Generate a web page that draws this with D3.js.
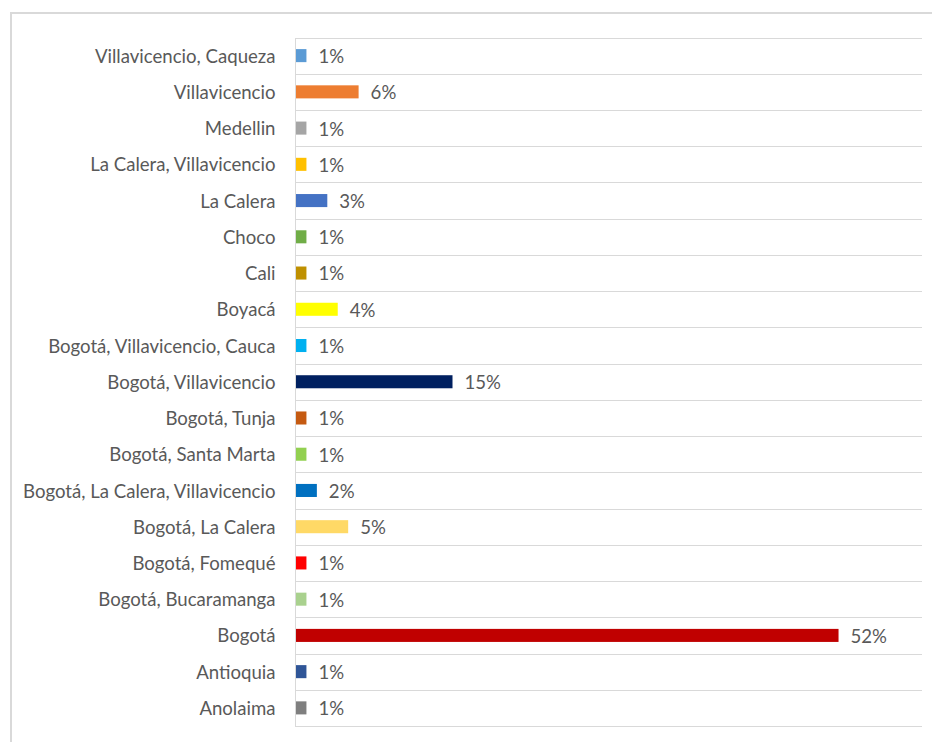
<!DOCTYPE html>
<html>
<head>
<meta charset="utf-8">
<script src="https://cdn.jsdelivr.net/npm/d3@7"></script>
<style>
  html, body { margin: 0; padding: 0; background: #fff; }
  svg { display: block; }
</style>
</head>
<body>
<svg id="chart" width="932" height="742"></svg>
<script>
// Destinos (de arriba hacia abajo) y su participación en porcentaje
const categories = [
  "Villavicencio, Caqueza",
  "Villavicencio",
  "Medellin",
  "La Calera, Villavicencio",
  "La Calera",
  "Choco",
  "Cali",
  "Boyacá",
  "Bogotá, Villavicencio, Cauca",
  "Bogotá, Villavicencio",
  "Bogotá, Tunja",
  "Bogotá, Santa Marta",
  "Bogotá, La Calera, Villavicencio",
  "Bogotá, La Calera",
  "Bogotá, Fomequé",
  "Bogotá, Bucaramanga",
  "Bogotá",
  "Antioquia",
  "Anolaima"
];
const values = [1, 6, 1, 1, 3, 1, 1, 4, 1, 15, 1, 1, 2, 5, 1, 1, 52, 1, 1];
const colors = [
  "#5b9bd5", "#ed7d31", "#a5a5a5", "#ffc000", "#4472c4", "#70ad47",
  "#bf9000", "#ffff00", "#00b0f0", "#002060", "#c55a11", "#92d050",
  "#0070c0", "#ffd966", "#ff0000", "#a9d18e", "#c00000", "#2f5597", "#7f7f7f"
];
const xMax = 60;

const svg = d3.select("#chart");
const font = "Lato, 'Open Sans', sans-serif";
const fontSize = 18.6;
const textColor = "#595959";
const gridColor = "#d9d9d9";

// Chart area frame
svg.append("path")
  .attr("d", "M11,742 V13 H932")
  .attr("fill", "none")
  .attr("stroke", gridColor)
  .attr("stroke-width", 2);

const plot = { left: 296, right: 922, top: 37.5, bottom: 726 };

const x = d3.scaleLinear().domain([0, xMax]).range([plot.left, plot.right]);
const y = d3.scaleBand()
  .domain(categories)
  .range([plot.top, plot.bottom])
  .paddingInner(0.64)
  .paddingOuter(0.32);

// Horizontal gridlines at category boundaries
const step = y.step();
const boundaries = d3.range(categories.length + 1).map(i => plot.top + i * step);
svg.append("g")
  .selectAll("line")
  .data(boundaries)
  .join("line")
  .attr("x1", plot.left)
  .attr("x2", plot.right)
  .attr("y1", d => Math.round(d) + 0.5)
  .attr("y2", d => Math.round(d) + 0.5)
  .attr("stroke", gridColor)
  .attr("stroke-width", 1);

// Category axis
const yAxis = svg.append("g")
  .attr("transform", `translate(${plot.left - 0.5},0)`)
  .call(d3.axisLeft(y).tickSize(0).tickPadding(20));
yAxis.select(".domain")
  .attr("stroke", gridColor)
  .attr("d", `M0,${Math.round(plot.top)}V${Math.round(plot.bottom) + 1}`);
yAxis.selectAll("text")
  .attr("font-family", font)
  .attr("font-size", fontSize)
  .attr("fill", textColor)
  .attr("dy", "0.38em");

const data = categories.map((c, i) => ({ cat: c, value: values[i], color: colors[i] }));

// Bars
svg.append("g")
  .selectAll("rect")
  .data(data)
  .join("rect")
  .attr("x", x(0))
  .attr("y", d => y(d.cat))
  .attr("width", d => x(d.value) - x(0))
  .attr("height", y.bandwidth())
  .attr("fill", d => d.color);

// Value labels
svg.append("g")
  .selectAll("text")
  .data(data)
  .join("text")
  .attr("x", d => x(d.value) + 12)
  .attr("y", d => y(d.cat) + y.bandwidth() / 2)
  .attr("dy", "0.4em")
  .attr("font-family", font)
  .attr("font-size", fontSize)
  .attr("fill", textColor)
  .text(d => d.value + "%");
</script>
</body>
</html>
